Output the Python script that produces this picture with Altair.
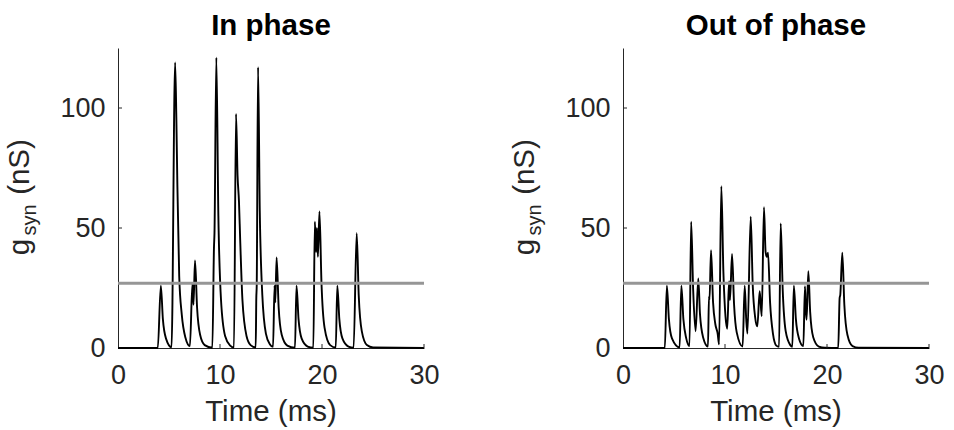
import altair as alt
import pandas as pd

# ---------------- data ----------------
# In phase trace: time (ms) and conductance (nS) vertices
t_in = [0, 3.9, 4.2, 4.4, 4.7, 5.25,
        5.6, 5.72, 5.82, 6.0, 6.25, 6.6, 7.05,
        7.3, 7.4, 7.55, 7.75, 8.05, 8.5, 9.25,
        9.41, 9.46, 9.64, 9.84, 10.1, 10.5, 11.0, 11.37,
        11.57, 11.72, 11.86, 11.98, 12.2, 12.6, 13.0, 13.5,
        13.56, 13.6, 13.73, 13.9, 14.15, 14.5, 14.9, 15.2,
        15.35, 15.42, 15.55, 15.75, 16.05, 16.6, 17.35,
        17.5, 17.7, 18.0, 18.6, 19.15,
        19.3, 19.42, 19.5, 19.6, 19.75, 19.95, 20.25, 20.8, 21.35,
        21.5, 21.7, 22.0, 22.6, 23.1,
        23.4, 23.6, 23.9, 24.4, 25.0, 30]
g_in = [0, 0, 26, 12, 4, 0.3,
        119, 96, 68, 30, 14, 4.5, 0.8,
        27, 18, 36.5, 17, 5.5, 1.2, 0.1,
        42, 48, 121, 55, 20, 5, 1, 0.2,
        97.5, 72, 61, 45, 20, 5, 1.2, 0.2,
        21, 26, 117, 57, 22, 6, 1.5, 0.5,
        26, 19, 37.7, 17, 5.5, 1, 0.1,
        26, 12, 4, 0.6, 0.1,
        52.6, 40, 50, 38, 56.9, 27, 8.5, 1.2, 0.2,
        26, 12, 4, 0.6, 0.1,
        47.8, 22, 7, 1.2, 0.2, 0]

# Out of phase trace
t_out = [0, 4.1, 4.3, 4.5, 4.8, 5.55,
         5.72, 5.92, 6.2, 6.52,
         6.68, 6.88, 7.12, 7.38, 7.55, 7.85, 8.33,
         8.43, 8.48, 8.63, 8.83, 9.05, 9.28, 9.42,
         9.64, 9.84, 10.05, 10.22, 10.4, 10.49, 10.69, 10.89, 11.15, 11.73,
         11.93, 12.08, 12.2, 12.52, 12.72, 12.95, 13.17, 13.4, 13.6,
         13.82, 13.98, 14.1, 14.22, 14.42, 14.7, 15.03, 15.3,
         15.46, 15.66, 15.95, 16.4, 16.6,
         16.75, 16.95, 17.25, 17.68,
         17.84, 17.92, 18.0, 18.17, 18.35, 18.65, 19.2, 19.8,
         21.1, 21.24, 21.3, 21.5, 21.7, 22.0, 22.5, 23.1, 30]
g_out = [0, 0, 26, 12, 4, 0.2,
         26, 12, 4, 0.8,
         52.6, 24, 7, 29, 14, 4.5, 0.6,
         21.6, 20, 40.8, 19, 10, 6, 1.5,
         67.4, 32, 13, 8, 27.8, 20, 39.2, 18, 6.5, 0.6,
         26, 12, 6, 54.7, 26, 13, 9, 23.7, 13.2,
         58.7, 40, 38, 39.7, 19, 6, 1, 0.5,
         51.9, 24, 7, 1.2, 0.5,
         26, 12, 4, 0.8,
         25.7, 16, 11.8, 32, 15, 4.5, 0.6, 0.1,
         0, 20.9, 22, 39.7, 18, 5.5, 0.8, 0.1, 0]

threshold = 27
x_ticks = [0, 10, 20, 30]
y_ticks = [0, 50, 100]
titles = ["In phase", "Out of phase"]

assert len(t_in) == len(g_in) and len(t_out) == len(g_out)

W, H = 306, 300
FONT = "Liberation Sans"
AXC = "#262626"
TICK_FS = 27
LAB_FS = 29.5


def panel(ts, gs, title):
    df = pd.DataFrame({"t": ts, "g": gs})
    xs = alt.Scale(domain=[0, 30], nice=False, zero=False)
    ys = alt.Scale(domain=[0, 125], nice=False)
    line = alt.Chart(df).mark_line(
        color="black", strokeWidth=1.9, interpolate="monotone"
    ).encode(
        x=alt.X("t:Q", scale=xs,
                axis=alt.Axis(values=x_ticks, title=None, ticks=False, grid=False,
                              labelFontSize=TICK_FS, labelFont=FONT, labelColor=AXC,
                              labelPadding=14, domainColor=AXC, domainWidth=1,
                              labelFlush=False)),
        y=alt.Y("g:Q", scale=ys,
                axis=alt.Axis(values=y_ticks, title=None, ticks=False, grid=False,
                              labelFontSize=TICK_FS, labelFont=FONT, labelColor=AXC,
                              labelPadding=13, domainColor=AXC, domainWidth=1,
                              labelFlush=False)),
    )
    thr = alt.Chart(pd.DataFrame({"g": [threshold]})).mark_rule(
        color="#969696", strokeWidth=3
    ).encode(y="g:Q")
    xt = alt.Chart(pd.DataFrame({"t": x_ticks[1:]})).mark_rule(
        color=AXC, strokeWidth=1
    ).encode(x="t:Q", y=alt.value(H), y2=alt.value(H - 4))
    yt = alt.Chart(pd.DataFrame({"g": y_ticks[1:]})).mark_rule(
        color=AXC, strokeWidth=1
    ).encode(y="g:Q", x=alt.value(0), x2=alt.value(4))

    def txt(s, x, y, size, angle=0, weight="normal"):
        return alt.Chart(pd.DataFrame({"s": [s]})).mark_text(
            font=FONT, fontSize=size, fontWeight=weight,
            color=AXC if weight == "normal" else "black",
            angle=angle, align="center", baseline="alphabetic"
        ).encode(text="s:N", x=alt.value(x), y=alt.value(y))

    labels = [
        txt(title, W / 2, -13, LAB_FS, weight="bold"),
        txt("Time (ms)", W / 2, H + 73, LAB_FS),
        txt("g", -89, 199, LAB_FS, angle=270),
        txt("syn", -82, 172, 20, angle=270),
        txt("(nS)", -89, 119, LAB_FS, angle=270),
    ]
    return alt.layer(line, thr, xt, yt, *labels).properties(width=W, height=H)


chart = alt.hconcat(
    panel(t_in, g_in, titles[0]),
    panel(t_out, g_out, titles[1]),
    spacing=199, bounds="flush",
).properties(
    padding={"left": 5, "top": 11, "right": 5, "bottom": 5},
    background="white",
).configure_view(stroke=None)

chart.save("out.html", embed_options={"renderer": "svg", "actions": False})
